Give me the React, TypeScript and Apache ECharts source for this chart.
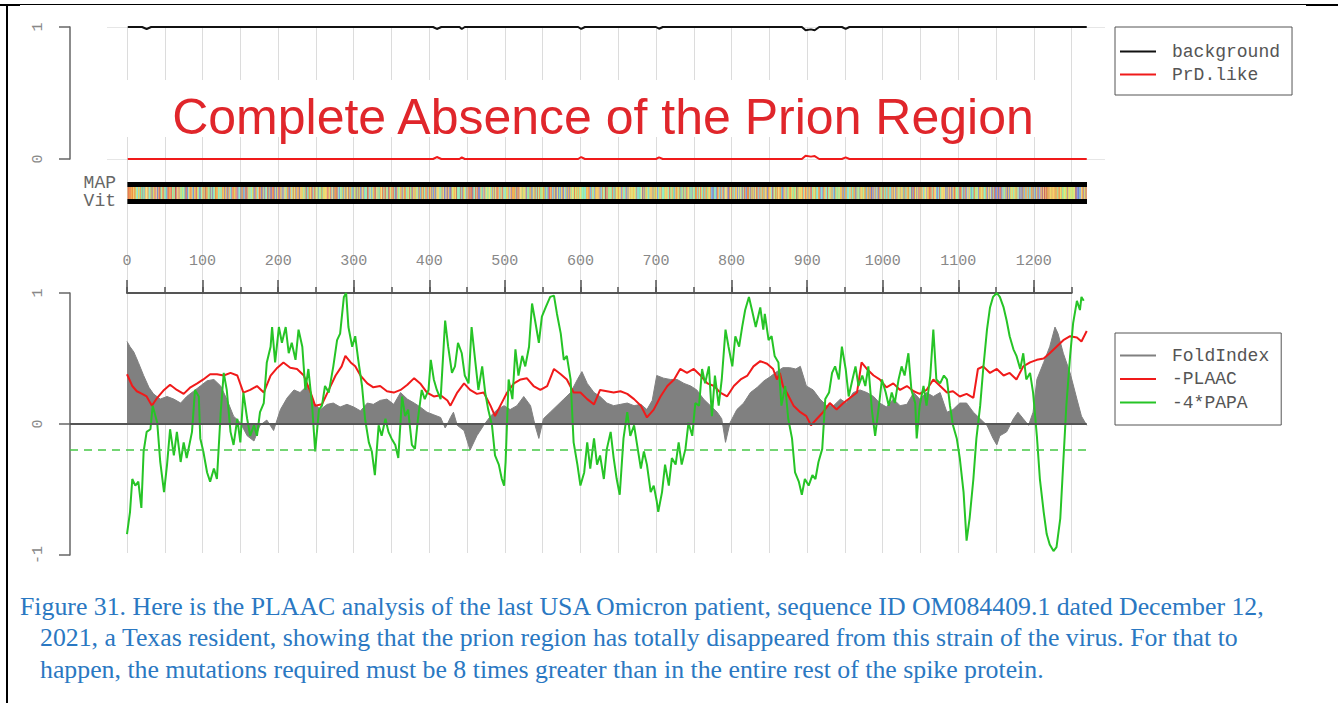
import { useEffect, useRef } from 'react';
import * as echarts from 'echarts';

// ---------- DATA ----------
const titleText = 'Complete Absence of the Prion Region';

// top panel: [residue, value]
const backgroundLine: [number, number][] = [
  [1, 1], [20, 1], [26, 0.985], [32, 1], [405, 1], [410, 0.985], [416, 1], [440, 1], [443, 0.985], [447, 1],
  [597, 1], [601, 0.985], [606, 1], [700, 1], [704, 0.987], [709, 1], [893, 1], [898, 0.975], [905, 0.982],
  [910, 0.975], [916, 1], [946, 1], [951, 0.985], [956, 1], [1270, 1],
];
const prdLikeLine: [number, number][] = [
  [1, 0], [405, 0], [410, 0.015], [416, 0], [440, 0], [443, 0.012], [447, 0], [597, 0], [601, 0.015], [606, 0],
  [700, 0], [704, 0.012], [709, 0], [893, 0], [898, 0.025], [905, 0.018], [910, 0.022], [916, 0], [946, 0],
  [951, 0.012], [956, 0], [1270, 0],
];

// bottom panel
const foldIndex: [number, number][] = [
  [0, 0.63], [4, 0.59], [9, 0.55], [15, 0.47], [22, 0.37], [29, 0.28], [35, 0.23], [44, 0.19], [53, 0.21], [62, 0.19],
  [71, 0.16], [79, 0.21], [88, 0.25], [97, 0.29], [106, 0.33], [115, 0.34], [124, 0.29], [132, 0.19], [141, 0.06],
  [150, 0.01], [159, -0.09], [168, -0.13], [176, -0.01], [185, 0.03], [194, -0.05], [203, 0.11], [212, 0.2], [221, 0.26],
  [229, 0.24], [238, 0.29], [247, 0.16], [256, 0.11], [265, 0.15], [273, 0.16], [282, 0.13], [291, 0.15], [300, 0.13],
  [309, 0.1], [318, 0.16], [326, 0.15], [335, 0.18], [344, 0.19], [353, 0.15], [362, 0.24], [371, 0.19], [380, 0.16],
  [388, 0.13], [397, 0.09], [406, 0.07], [415, 0.05], [421, -0.03], [424, 0.0], [428, 0.05], [432, 0.09], [437, -0.01],
  [446, -0.05], [454, -0.2], [463, -0.09], [472, -0.01], [481, 0.06], [490, 0.11], [499, 0.14], [507, 0.11], [516, 0.14],
  [525, 0.21], [534, 0.14], [540, -0.01], [545, -0.11], [551, 0.04], [560, 0.09], [569, 0.14], [578, 0.19], [587, 0.24],
  [596, 0.34], [602, 0.4], [609, 0.31], [618, 0.24], [626, 0.21], [635, 0.16], [644, 0.14], [653, 0.15], [662, 0.16],
  [671, 0.14], [680, 0.15], [688, 0.11], [695, 0.18], [701, 0.37], [710, 0.35], [719, 0.34], [728, 0.34], [737, 0.31],
  [746, 0.29], [754, 0.26], [763, 0.19], [772, 0.14], [781, 0.09], [787, 0.04], [792, -0.14], [798, 0.01], [807, 0.11],
  [816, 0.16], [825, 0.24], [834, 0.28], [843, 0.33], [851, 0.36], [860, 0.4], [868, 0.43], [877, 0.43], [885, 0.42],
  [891, 0.44], [899, 0.29], [908, 0.26], [917, 0.19], [926, 0.14], [935, 0.14], [944, 0.19], [952, 0.16], [961, 0.24],
  [970, 0.26], [979, 0.24], [988, 0.21], [996, 0.16], [1005, 0.13], [1014, 0.19], [1023, 0.14], [1032, 0.15],
  [1041, 0.24], [1049, 0.19], [1058, 0.24], [1067, 0.21], [1076, 0.24], [1085, 0.09], [1093, 0.11], [1102, 0.16],
  [1111, 0.16], [1120, 0.09], [1129, 0.04], [1138, -0.01], [1146, -0.11], [1151, -0.16], [1155, -0.09], [1164, -0.06],
  [1173, 0.04], [1179, 0.09], [1186, 0.04], [1193, -0.01], [1199, 0.09], [1204, 0.34], [1213, 0.47], [1221, 0.59],
  [1228, 0.74], [1232, 0.69], [1239, 0.54], [1248, 0.39], [1257, 0.19], [1263, 0.06], [1270, -0.01],
];

const plaacNeg: [number, number][] = [
  [0, 0.38], [7, 0.29], [13, 0.25], [20, 0.23], [26, 0.21], [33, 0.14], [40, 0.2], [49, 0.26], [57, 0.3], [66, 0.26],
  [75, 0.23], [84, 0.28], [93, 0.31], [101, 0.34], [110, 0.38], [119, 0.38], [128, 0.37], [137, 0.39], [146, 0.37],
  [154, 0.24], [163, 0.26], [172, 0.29], [181, 0.24], [190, 0.37], [199, 0.43], [207, 0.47], [216, 0.43], [225, 0.42],
  [234, 0.37], [243, 0.24], [249, 0.14], [258, 0.15], [267, 0.26], [276, 0.37], [284, 0.44], [289, 0.52], [296, 0.47],
  [302, 0.44], [309, 0.37], [318, 0.31], [326, 0.28], [335, 0.29], [344, 0.25], [353, 0.24], [362, 0.26], [371, 0.3],
  [380, 0.35], [388, 0.31], [397, 0.24], [406, 0.21], [415, 0.22], [424, 0.18], [428, 0.14], [437, 0.24], [446, 0.31],
  [454, 0.26], [463, 0.23], [472, 0.24], [481, 0.14], [487, 0.06], [494, 0.14], [503, 0.24], [512, 0.31], [521, 0.34],
  [529, 0.35], [538, 0.29], [547, 0.26], [556, 0.29], [565, 0.42], [574, 0.38], [582, 0.34], [591, 0.24], [600, 0.24],
  [609, 0.19], [618, 0.15], [626, 0.26], [635, 0.25], [644, 0.24], [653, 0.25], [662, 0.23], [671, 0.19], [680, 0.14],
  [688, 0.05], [697, 0.11], [706, 0.21], [715, 0.29], [724, 0.34], [732, 0.42], [741, 0.39], [750, 0.42], [759, 0.37],
  [768, 0.31], [777, 0.29], [785, 0.24], [794, 0.21], [803, 0.29], [812, 0.34], [821, 0.37], [829, 0.44], [838, 0.48],
  [847, 0.46], [855, 0.42], [860, 0.34], [864, 0.39], [868, 0.29], [873, 0.24], [882, 0.14], [891, 0.09], [899, 0.06],
  [905, -0.01], [913, 0.04], [921, 0.09], [930, 0.16], [939, 0.11], [948, 0.16], [957, 0.2], [966, 0.24], [972, 0.47],
  [979, 0.42], [988, 0.37], [996, 0.34], [1005, 0.28], [1014, 0.31], [1023, 0.26], [1032, 0.29], [1041, 0.25],
  [1049, 0.23], [1058, 0.26], [1067, 0.34], [1076, 0.29], [1085, 0.24], [1093, 0.25], [1102, 0.21], [1111, 0.23],
  [1120, 0.2], [1126, 0.42], [1133, 0.44], [1142, 0.39], [1151, 0.42], [1160, 0.37], [1168, 0.39], [1177, 0.34],
  [1186, 0.44], [1195, 0.47], [1204, 0.49], [1213, 0.5], [1221, 0.54], [1230, 0.59], [1239, 0.64], [1248, 0.67],
  [1257, 0.66], [1263, 0.63], [1270, 0.71],
];

const papaNeg4: [number, number][] = [
  [0, -0.84], [4, -0.67], [7, -0.42], [11, -0.47], [15, -0.44], [19, -0.64], [22, -0.21], [26, -0.06], [31, -0.04],
  [34, 0.14], [40, 0.01], [44, -0.29], [49, -0.52], [53, -0.31], [57, -0.04], [62, -0.24], [66, -0.06], [71, -0.29],
  [75, -0.14], [79, -0.26], [86, -0.06], [90, 0.26], [95, 0.21], [97, -0.11], [101, -0.21], [106, -0.37], [110, -0.44],
  [115, -0.34], [119, -0.42], [124, 0.09], [128, 0.39], [132, 0.26], [137, -0.06], [141, -0.16], [146, 0.04],
  [150, -0.14], [154, 0.24], [159, 0.04], [163, -0.09], [168, -0.01], [172, -0.09], [176, 0.09], [181, 0.16],
  [185, 0.47], [190, 0.59], [192, 0.74], [196, 0.47], [201, 0.74], [205, 0.62], [210, 0.74], [214, 0.54], [218, 0.62],
  [223, 0.49], [227, 0.72], [232, 0.59], [236, 0.26], [240, 0.42], [245, 0.14], [249, -0.21], [254, 0.11], [258, 0.14],
  [262, 0.29], [267, 0.24], [273, 0.44], [278, 0.64], [282, 0.69], [287, 0.97], [290, 1.0], [293, 0.74], [298, 0.59],
  [302, 0.67], [306, 0.49], [311, 0.29], [315, 0.04], [320, -0.14], [324, -0.21], [328, -0.39], [333, -0.01],
  [337, -0.09], [342, 0.04], [346, -0.06], [350, -0.11], [355, -0.16], [359, -0.26], [364, 0.21], [368, 0.06],
  [372, 0.11], [377, -0.16], [381, -0.19], [385, 0.04], [390, 0.26], [394, 0.19], [399, 0.26], [402, 0.49], [406, 0.34],
  [410, 0.26], [415, 0.19], [421, 0.79], [425, 0.59], [430, 0.39], [434, 0.44], [438, 0.62], [443, 0.54], [447, 0.37],
  [452, 0.31], [456, 0.74], [461, 0.47], [465, 0.26], [470, 0.44], [474, 0.24], [478, 0.11], [483, -0.01], [487, -0.24],
  [492, -0.31], [496, -0.42], [499, -0.47], [501, -0.29], [505, 0.34], [510, 0.19], [514, 0.57], [518, 0.37],
  [523, 0.52], [527, 0.44], [532, 0.59], [536, 0.92], [540, 0.79], [545, 0.62], [549, 0.82], [554, 0.89], [560, 0.97],
  [565, 0.98], [569, 0.84], [574, 0.69], [578, 0.49], [582, 0.52], [587, 0.34], [591, -0.14], [596, -0.31], [600, -0.47],
  [605, -0.37], [609, -0.14], [613, -0.34], [618, -0.11], [622, -0.31], [626, -0.24], [631, -0.42], [635, -0.19],
  [640, -0.06], [644, -0.26], [648, -0.42], [652, -0.54], [657, -0.11], [662, 0.09], [666, -0.09], [671, -0.01],
  [675, -0.16], [680, -0.34], [684, -0.21], [688, -0.31], [693, -0.52], [697, -0.47], [701, -0.59], [703, -0.67],
  [708, -0.52], [712, -0.31], [717, -0.47], [721, -0.26], [726, -0.31], [730, -0.14], [734, -0.31], [739, -0.19],
  [743, 0.01], [748, -0.09], [752, 0.16], [757, 0.14], [761, 0.42], [765, 0.31], [770, 0.44], [774, 0.06], [778, 0.37],
  [783, 0.14], [787, 0.34], [792, 0.72], [796, 0.59], [801, 0.44], [805, 0.67], [810, 0.59], [814, 0.74], [818, 0.87],
  [823, 0.97], [827, 0.87], [832, 0.74], [836, 0.84], [838, 0.89], [842, 0.72], [844, 0.84], [849, 0.64], [853, 0.67],
  [857, 0.52], [862, 0.47], [866, 0.14], [871, 0.29], [875, 0.04], [880, -0.11], [884, -0.37], [889, -0.44],
  [893, -0.54], [897, -0.42], [902, -0.47], [907, -0.39], [911, -0.42], [915, -0.29], [920, -0.19], [924, 0.19],
  [929, 0.24], [933, 0.39], [937, 0.44], [942, 0.34], [946, 0.59], [951, 0.42], [955, 0.21], [960, 0.34], [964, 0.44],
  [968, 0.29], [973, 0.37], [977, 0.29], [981, 0.44], [986, 0.09], [990, -0.09], [995, 0.14], [999, 0.34], [1004, 0.24],
  [1008, 0.14], [1012, 0.24], [1016, 0.16], [1021, 0.34], [1025, 0.44], [1029, 0.37], [1034, 0.54], [1038, 0.26],
  [1043, 0.16], [1045, -0.11], [1049, 0.14], [1054, 0.29], [1058, 0.14], [1063, 0.37], [1067, 0.72], [1071, 0.34],
  [1076, 0.31], [1081, 0.37], [1085, 0.34], [1089, 0.14], [1093, -0.01], [1098, -0.11], [1102, -0.26], [1107, -0.52],
  [1111, -0.89], [1115, -0.72], [1120, -0.42], [1124, -0.11], [1129, 0.14], [1133, 0.42], [1138, 0.72], [1142, 0.89],
  [1146, 0.97], [1151, 1.0], [1155, 0.97], [1160, 0.89], [1164, 0.79], [1168, 0.67], [1173, 0.57], [1177, 0.52],
  [1182, 0.42], [1186, 0.54], [1190, 0.34], [1195, 0.39], [1199, 0.24], [1204, -0.09], [1208, -0.42], [1213, -0.67],
  [1217, -0.84], [1221, -0.92], [1226, -0.97], [1230, -0.94], [1235, -0.72], [1239, -0.29], [1243, 0.14], [1248, 0.52],
  [1252, 0.77], [1257, 0.94], [1261, 0.87], [1263, 0.97], [1266, 0.94],
];

const bottomRefLines = [0];
const papaThresholdLines = [-0.2];

// spike protein sequence used for the residue colour strip
const spikeSequence =
  'MFVFLVLLPLVSSQCVNLTTRTQLPPAYTNSFTRGVYYPDKVFRSSVLHSTQDLFLPFFSNVTWFHAIHVSGTNGTKRFDNPVLPFNDGVYFASTEKSNIIRGWIFGTTLDSKTQSLLIVNNATNVVIKVCEFQFCNDPFLGVYYHKNNKSWMESEFRVYSSANNCTFEYVSQPFLMDLEGKQGNFKNLREFVFKNIDGYFKIYSKHTPINLVRDLPQGFSALEPLVDLPIGINITRFQTLLALHRSYLTPGDSSSGWTAGAAAYYVGYLQPRTFLLKYNENGTITDAVDCALDPLSETKCTLKSFTVEKGIYQTSNFRVQPTESIVRFPNITNLCPFGEVFNATRFASVYAWNRKRISNCVADYSVLYNSASFSTFKCYGVSPTKLNDLCFTNVYADSFVIRGDEVRQIAPGQTGKIADYNYKLPDDFTGCVIAWNSNNLDSKVGGNYNYLYRLFRKSNLKPFERDISTEIYQAGSTPCNGVEGFNCYFPLQSYGFQPTNGVGYQPYRVVVLSFELLHAPATVCGPKKSTNLVKNKCVNFNFNGLTGTGVLTESNKKFLPFQQFGRDIADTTDAVRDPQTLEILDITPCSFGGVSVITPGTNTSNQVAVLYQDVNCTEVPVAIHADQLTPTWRVYSTGSNVFQTRAGCLIGAEHVNNSYECDIPIGAGICASYQTQTNSPRRARSVASQSIIAYTMSLGAENSVAYSNNSIAIPTNFTISVTTEILPVSMTKTSVDCTMYICGDSTECSNLLLQYGSFCTQLNRALTGIAVEQDKNTQEVFAQVKQIYKTPPIKDFGGFNFSQILPDPSKPSKRSFIEDLLFNKVTLADAGFIKQYGDCLGDIAARDLICAQKFNGLTVLPPLLTDEMIAQYTSALLAGTITSGWTFGAGAALQIPFAMQMAYRFNGIGVTQNVLYENQKLIANQFNSAIGKIQDSLSSTASALGKLQDVVNQNAQALNTLVKQLSSNFGAISSVLNDILSRLDKVEAEVQIDRLITGRLQSLQTYVTQQLIRAAEIRASANLAATKMSECVLGQSKRVDFCGKGYHLMSFPQSAPHGVVFLHVTYVPAQEKNFTTAPAICHDGKAHFPREGVFVSNGTHWFVTQRNFYEPQIITTDNTFVSGNCDVVIGIVNNTVYDPLQPELDSFKEELDKYFKNHTSPDVDLGDISGINASVVNIQKEIDRLNEVAKNLNESLIDLQELGKYEQYIKWPWYIWLGFIAGLIAIVMVTIMLCCMTSCCSCLKGCCSCGSCCKFDEDDSEPVLKGVKLHYT';

// MAP / Viterbi state segments: [start, end, state]
const mapSegments: [number, number, string][] = [[1, 1270, 'background']];
const vitSegments: [number, number, string][] = [[1, 1270, 'background']];

const captionLines = [
  'Figure 31. Here is the PLAAC analysis of the last USA Omicron patient, sequence ID OM084409.1 dated December 12,',
  '2021, a Texas resident, showing that the prion region has totally disappeared from this strain of the virus. For that to',
  'happen, the mutations required must be 8 times greater than in the entire rest of the spike protein.',
];

// ---------- STYLE ----------
const aaColors: Record<string, string> = {
  L: '#ec9440', V: '#f0ac4c', I: '#f0c060', A: '#f4d264', M: '#dc9c58', F: '#e66a4c', W: '#c85c4c',
  Y: '#e08a7c', G: '#d4e670', P: '#f4dc80', C: '#ece064', S: '#a6ec96', T: '#8ce4a4', N: '#84ecc8',
  Q: '#7cd4e0', D: '#6c80d8', E: '#7a92e0', K: '#9a80aa', R: '#a08096', H: '#b898bc',
};
const stateColors: Record<string, string> = { background: '#000000', PrD: '#ff0000' };

const PX = 0.7557; // pixels per residue
const X0 = 127; // pixel of residue 0
const AXIS_X = 70;
const XMIN = -(X0 - AXIS_X) / PX;
const XMAX = 1270;
const MONO = '"Liberation Mono", "Courier New", monospace';

export default function App() {
  const ref = useRef<HTMLDivElement>(null);
  useEffect(() => {
    if (!ref.current) return;
    const chart = echarts.init(ref.current, undefined, { renderer: 'svg' });

    const hiddenX = (gridIndex: number, min: number, max: number) => ({
      gridIndex, type: 'value', min, max, show: false,
    });
    const hiddenY = (gridIndex: number, min: number, max: number, inverse = false) => ({
      gridIndex, type: 'value', min, max, show: false, inverse,
    });
    const leftAxis = (gridIndex: number, min: number, max: number) => ({
      gridIndex, type: 'value', min, max, interval: 1, position: 'left',
      axisLine: { show: true, onZero: false, lineStyle: { color: '#666', width: 1.5 } },
      axisTick: { show: true, length: 11, lineStyle: { color: '#666', width: 1.5 } },
      axisLabel: { rotate: 90, margin: 24, fontFamily: MONO, fontSize: 15, color: '#888' },
      splitLine: { show: false },
    });
    const legendBase = {
      orient: 'vertical', left: 1115, icon: 'rect', itemWidth: 36, itemHeight: 2,
      borderColor: '#555', borderWidth: 1, backgroundColor: '#fff', selectedMode: false,
      textStyle: { fontFamily: MONO, fontSize: 18, lineHeight: 18, color: '#555', padding: [0, 0, 0, 11] },
    };

    const option: any = {
      animation: false,
      backgroundColor: '#ffffff',
      grid: [
        { left: X0, top: 27, width: 1250 * PX, height: 526 }, // 0 vertical gridlines
        { left: 107, top: 27, width: 998, height: 132 }, // 1 faint horizontal lines top panel
        { left: AXIS_X, top: 27, width: (XMAX - XMIN) * PX, height: 132 }, // 2 top panel
        { left: X0, top: 182, width: XMAX * PX, height: 22 }, // 3 MAP/Vit track
        { left: X0, top: 293, width: 1200 * PX, height: 262 }, // 4 major ticks + labels
        { left: X0, top: 293, width: 1250 * PX, height: 262 }, // 5 axis line + minor ticks
        { left: AXIS_X, top: 293, width: (XMAX - XMIN) * PX, height: 262 }, // 6 bottom panel
      ],
      xAxis: [
        {
          gridIndex: 0, type: 'value', min: 0, max: 1250, interval: 50,
          axisLine: { show: false }, axisTick: { show: false }, axisLabel: { show: false },
          splitLine: { show: true, lineStyle: { color: '#dcdcdc', width: 1 } },
        },
        hiddenX(1, 0, 1),
        hiddenX(2, XMIN, XMAX),
        hiddenX(3, 0, XMAX),
        {
          gridIndex: 4, type: 'value', min: 0, max: 1200, interval: 100, position: 'top',
          axisLine: { show: false, onZero: false },
          axisTick: { show: true, length: 13, lineStyle: { color: '#555', width: 1.5 } },
          axisLabel: {
            show: true, margin: 24, fontFamily: MONO, fontSize: 15, color: '#888',
            formatter: (v: number) => String(v),
          },
          splitLine: { show: false },
        },
        {
          gridIndex: 5, type: 'value', min: 0, max: 1250, interval: 50, position: 'top',
          axisLine: { show: true, onZero: false, lineStyle: { color: '#555', width: 2 } },
          axisTick: { show: true, length: 6, lineStyle: { color: '#555', width: 1.5 } },
          axisLabel: { show: false },
          splitLine: { show: false },
        },
        hiddenX(6, XMIN, XMAX),
      ],
      yAxis: [
        hiddenY(0, 0, 1),
        {
          gridIndex: 1, type: 'value', min: 0, max: 1, interval: 1,
          axisLine: { show: false, onZero: false }, axisTick: { show: false }, axisLabel: { show: false },
          splitLine: { show: true, lineStyle: { color: '#e6e6e6', width: 1 } },
        },
        leftAxis(2, 0, 1),
        hiddenY(3, 0, 22, true),
        hiddenY(4, 0, 1),
        hiddenY(5, 0, 1),
        leftAxis(6, -1, 1),
      ],
      legend: [
        {
          ...legendBase, top: 27, data: ['background', 'PrD.like'],
          itemGap: 5, padding: [15.5, 12, 11.5, 5],
        },
        {
          ...legendBase, top: 333, data: ['FoldIndex', '-PLAAC', '-4*PAPA'],
          itemGap: 5.5, padding: [13.5, 12, 13.5, 5],
        },
      ],
      series: [
        {
          name: 'background', type: 'line', xAxisIndex: 2, yAxisIndex: 2, data: backgroundLine,
          symbol: 'none', clip: false, lineStyle: { color: '#111', width: 2 }, itemStyle: { color: '#111' },
        },
        {
          name: 'PrD.like', type: 'line', xAxisIndex: 2, yAxisIndex: 2, data: prdLikeLine,
          symbol: 'none', clip: false, lineStyle: { color: '#f01a1a', width: 2 }, itemStyle: { color: '#f01a1a' },
        },
        {
          name: 'MAP', type: 'custom', xAxisIndex: 3, yAxisIndex: 3, silent: true, clip: true,
          data: mapSegments.map((s) => [s[0], s[1], s[2]]),
          renderItem: (params: any, api: any) => {
            const seg = mapSegments[params.dataIndex];
            const p0 = api.coord([api.value(0) - 0.5, 0]);
            const p1 = api.coord([api.value(1) + 0.5, 5]);
            return { type: 'rect', shape: { x: p0[0], y: p0[1], width: p1[0] - p0[0], height: p1[1] - p0[1] }, style: { fill: stateColors[seg[2]] } };
          },
        },
        {
          name: 'sequence', type: 'custom', xAxisIndex: 3, yAxisIndex: 3, silent: true, clip: true,
          data: spikeSequence.split('').map((_, i) => [i + 1, i]),
          renderItem: (params: any, api: any) => {
            const aa = spikeSequence[params.dataIndex];
            const p0 = api.coord([api.value(0) - 0.5, 5]);
            const p1 = api.coord([api.value(0) + 0.5, 17]);
            return { type: 'rect', shape: { x: p0[0], y: p0[1], width: p1[0] - p0[0] + 0.3, height: p1[1] - p0[1] }, style: { fill: aaColors[aa] || '#cccccc' } };
          },
        },
        {
          name: 'Vit', type: 'custom', xAxisIndex: 3, yAxisIndex: 3, silent: true, clip: true,
          data: vitSegments.map((s) => [s[0], s[1], s[2]]),
          renderItem: (params: any, api: any) => {
            const seg = vitSegments[params.dataIndex];
            const p0 = api.coord([api.value(0) - 0.5, 17]);
            const p1 = api.coord([api.value(1) + 0.5, 22]);
            return { type: 'rect', shape: { x: p0[0], y: p0[1], width: p1[0] - p0[0], height: p1[1] - p0[1] }, style: { fill: stateColors[seg[2]] } };
          },
        },
        {
          name: 'FoldIndex', type: 'line', xAxisIndex: 6, yAxisIndex: 6, data: foldIndex,
          symbol: 'none', lineStyle: { color: '#808080', width: 1 }, itemStyle: { color: '#808080' },
          areaStyle: { color: '#808080', opacity: 1 },
          markLine: {
            silent: true, symbol: ['none', 'none'], label: { show: false },
            data: bottomRefLines.map((v) => ({ yAxis: v, lineStyle: { color: '#555', width: 2, type: 'solid' } })),
          },
        },
        {
          name: '-PLAAC', type: 'line', xAxisIndex: 6, yAxisIndex: 6, data: plaacNeg,
          symbol: 'none', lineStyle: { color: '#f01a1a', width: 2 }, itemStyle: { color: '#f01a1a' },
        },
        {
          name: '-4*PAPA', type: 'line', xAxisIndex: 6, yAxisIndex: 6, data: papaNeg4,
          symbol: 'none', lineStyle: { color: '#26c426', width: 2 }, itemStyle: { color: '#26c426' },
          markLine: {
            silent: true, symbol: ['none', 'none'], label: { show: false },
            data: papaThresholdLines.map((v) => ({ yAxis: v, lineStyle: { color: '#45c845', width: 1.5, type: [8, 6] } })),
          },
        },
      ],
      graphic: {
        elements: [
          // page frame
          { type: 'rect', z: 50, shape: { x: 6, y: 4, width: 2, height: 699 }, style: { fill: '#000' } },
          { type: 'rect', z: 50, shape: { x: 0, y: 4, width: 1338, height: 1 }, style: { fill: '#000' } },
          { type: 'rect', z: 50, shape: { x: 0, y: 4, width: 20, height: 2 }, style: { fill: '#000' } },
          { type: 'rect', z: 50, shape: { x: 1306, y: 4, width: 32, height: 2 }, style: { fill: '#000' } },
          // title
          { type: 'rect', z: 1, shape: { x: 110, y: 80, width: 950, height: 57 }, style: { fill: '#fff' } },
          {
            type: 'text', z: 3, x: 603, y: 117,
            style: { text: titleText, fill: '#e0262b', font: '50px "Liberation Sans", Arial, sans-serif', textAlign: 'center', textVerticalAlign: 'middle' },
          },
          // track labels
          { type: 'text', z: 3, x: 116, y: 183, style: { text: 'MAP', fill: '#666', font: `18px ${MONO}`, textAlign: 'right', textVerticalAlign: 'middle' } },
          { type: 'text', z: 3, x: 116, y: 201, style: { text: 'Vit', fill: '#666', font: `18px ${MONO}`, textAlign: 'right', textVerticalAlign: 'middle' } },
          // caption
          ...captionLines.map((t, i) => ({
            type: 'text', z: 3, x: i === 0 ? 20 : 40, y: 606 + i * 31.5,
            style: { text: t, fill: '#2a78c2', font: '25.8px "Liberation Serif", "Times New Roman", serif', textAlign: 'left', textVerticalAlign: 'middle' },
          })),
        ],
      },
    };

    chart.setOption(option);
    return () => chart.dispose();
  }, []);

  return (
    <div
      ref={ref}
      style={{ position: 'absolute', left: 0, top: 0, width: 1338, height: 703, background: '#fff' }}
    />
  );
}
